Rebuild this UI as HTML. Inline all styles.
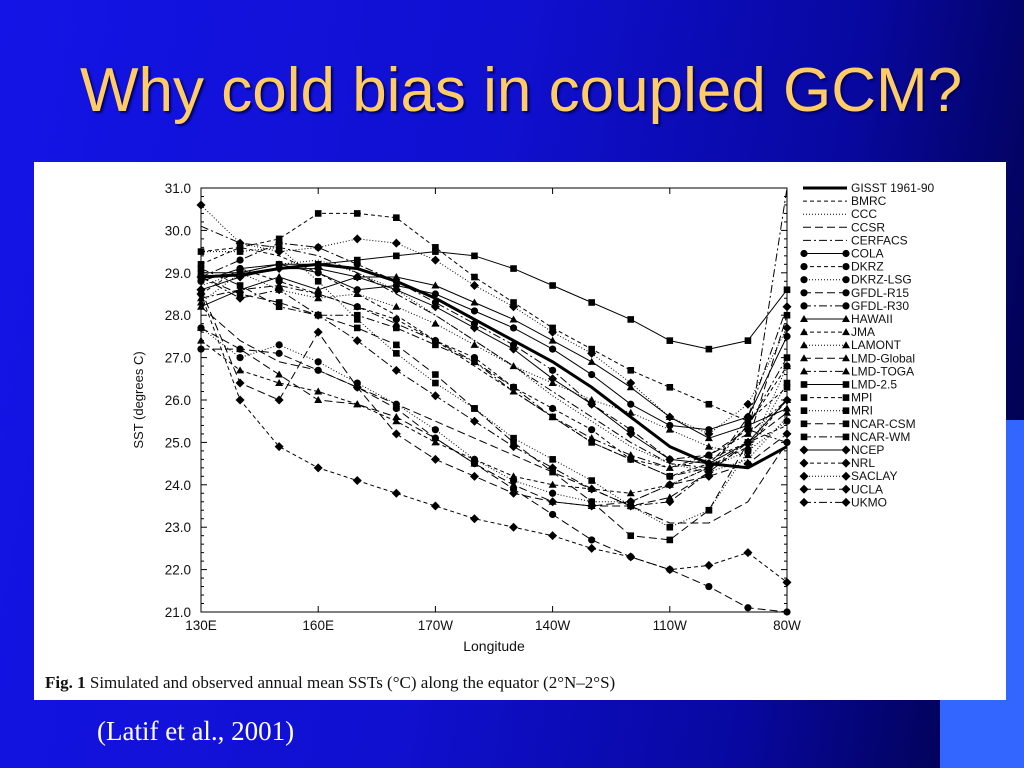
<!DOCTYPE html>
<html><head><meta charset="utf-8"><style>
body{margin:0;width:1024px;height:768px;overflow:hidden;position:relative;background:linear-gradient(100deg,#1414e6 0%,#1010d0 45%,#0808a0 75%,#000040 100%);font-family:"Liberation Sans",sans-serif}
#title{position:absolute;left:80px;top:55px;font-size:62px;color:#ffcc66;text-shadow:2px 2px 2px #000060;white-space:nowrap}
#deco1{position:absolute;left:1006px;top:420px;width:18px;height:348px;background:#3366ff}
#deco2{position:absolute;left:940px;top:690px;width:84px;height:78px;background:#3366ff}
#panel{position:absolute;left:34px;top:162px;width:972px;height:538px;background:#fff}
#cite{position:absolute;left:97px;top:716px;font-family:"Liberation Serif",serif;font-size:27px;color:#fff}
</style></head><body>
<div id="title">Why cold bias in coupled GCM?</div>
<div id="deco1"></div>
<div id="deco2"></div>
<div id="panel"></div>
<svg id="chart" width="1024" height="768" style="position:absolute;left:0;top:0"></svg>
<div id="cite">(Latif et al., 2001)</div>
<script>
const lons=[0,10,20,30,40,50,60,70,80,90,100,110,120,130,140,150];
const names=["GISST 1961-90","BMRC","CCC","CCSR","CERFACS","COLA","DKRZ","DKRZ-LSG","GFDL-R15","GFDL-R30","HAWAII","JMA","LAMONT","LMD-Global","LMD-TOGA","LMD-2.5","MPI","MRI","NCAR-CSM","NCAR-WM","NCEP","NRL","SACLAY","UCLA","UKMO"];
const sGISST=[28.9,28.95,29.1,29.2,29.1,28.8,28.4,27.9,27.4,26.9,26.3,25.6,24.9,24.5,24.4,24.9];
const sBMRC=[29.5,29.6,29.4,29.0,28.5,28.0,27.4,26.8,26.2,25.6,25.0,24.6,24.4,24.6,25.0,25.4];
const sCCC=[28.7,29.0,29.2,29.3,29.0,28.6,28.0,27.4,26.8,26.1,25.5,24.9,24.5,24.3,24.6,25.6];
const sCCSR=[28.2,27.4,26.9,26.7,26.3,25.9,25.5,25.1,24.7,24.3,23.9,23.5,23.1,23.1,23.6,25.0];
const sCERFACS=[30.1,29.7,29.6,29.4,29.0,28.5,28.0,27.4,26.8,26.2,25.6,25.0,24.5,24.4,25.0,31.0];
const sCOLA=[28.8,29.1,29.2,29.0,28.6,28.7,28.5,28.1,27.7,27.2,26.6,25.9,25.4,25.3,25.6,27.5];
const sDKRZ=[28.5,29.1,28.8,28.5,28.2,27.9,27.4,27.0,26.3,25.8,25.3,24.6,24.2,24.5,25.4,26.8];
const sDKRZLSG=[27.7,27.0,27.3,26.9,26.4,25.9,25.3,24.6,24.1,23.8,23.6,23.6,24.0,24.4,24.8,25.5];
const sGFDLR15=[27.2,27.2,27.1,26.7,26.3,25.8,25.1,24.5,23.9,23.3,22.7,22.3,22.0,21.6,21.1,21.0];
const sGFDLR30=[28.9,29.3,29.7,29.6,29.2,28.8,28.3,27.8,27.3,26.7,25.9,25.3,24.6,24.7,25.3,25.0];
const sHAWAII=[28.2,28.6,28.9,28.6,28.9,28.9,28.7,28.3,27.9,27.4,26.9,26.3,25.6,25.1,25.4,25.8];
const sJMA=[27.4,26.7,26.4,26.2,25.9,25.5,25.0,24.6,24.2,24.0,23.9,23.8,24.0,24.4,24.9,26.0];
const sLAMONT=[28.3,29.0,28.6,28.4,28.5,28.2,27.8,27.3,26.8,26.4,26.0,25.7,25.3,24.9,24.7,26.8];
const sLMDGlobal=[27.7,27.2,26.6,26.0,25.9,25.6,25.1,24.5,24.0,23.6,23.5,23.5,23.7,24.3,25.0,25.7];
const sLMDTOGA=[28.4,28.6,28.7,28.5,28.2,27.8,27.4,26.9,26.2,25.6,25.1,24.7,24.4,24.7,25.2,26.0];
const sLMD25=[29.0,29.0,29.2,29.2,29.3,29.4,29.5,29.4,29.1,28.7,28.3,27.9,27.4,27.2,27.4,28.6];
const sMPI=[29.2,29.6,29.8,30.4,30.4,30.3,29.6,28.9,28.3,27.7,27.2,26.7,26.3,25.9,25.5,26.3];
const sMRI=[29.5,29.5,29.6,28.8,27.9,27.1,26.4,25.8,25.1,24.6,24.1,23.5,23.0,23.4,24.8,26.4];
const sNCARCSM=[28.9,28.5,28.3,28.0,27.7,27.3,26.6,25.8,25.0,24.3,23.6,22.8,22.7,23.4,25.0,28.0];
const sNCARWM=[29.1,28.7,28.2,28.0,28.0,27.7,27.3,26.9,26.3,25.6,25.0,24.6,24.2,24.4,25.4,27.0];
const sNCEP=[28.6,28.9,29.1,29.1,28.9,28.6,28.2,27.7,27.2,26.5,25.9,25.2,24.6,24.5,25.0,26.0];
const sNRL=[28.5,26.0,24.9,24.4,24.1,23.8,23.5,23.2,23.0,22.8,22.5,22.3,22.0,22.1,22.4,21.7];
const sSACLAY=[30.6,29.7,29.5,29.6,29.8,29.7,29.3,28.7,28.2,27.6,27.1,26.4,25.6,25.2,25.9,27.7];
const sUCLA=[28.6,26.4,26.0,27.6,26.3,25.2,24.6,24.2,23.8,23.6,23.5,23.6,24.0,24.2,24.5,25.2];
const sUKMO=[28.9,28.4,28.6,28.0,27.4,26.7,26.1,25.5,24.9,24.4,23.9,23.5,23.6,24.3,25.6,28.2];
const series=[sGISST,sBMRC,sCCC,sCCSR,sCERFACS,sCOLA,sDKRZ,sDKRZLSG,sGFDLR15,sGFDLR30,sHAWAII,sJMA,sLAMONT,sLMDGlobal,sLMDTOGA,sLMD25,sMPI,sMRI,sNCARCSM,sNCARWM,sNCEP,sNRL,sSACLAY,sUCLA,sUKMO];
const yTicks=[21,22,23,24,25,26,27,28,29,30,31];
const xTickVals=[0,30,60,90,120,150];
const xTickLabels=["130E","160E","170W","140W","110W","80W"];

const X0=201,X1=787,Y0=612,Y1=188;
const xs=d=>X0+(d/150)*(X1-X0);
const ys=t=>Y0-(t-21)/10*(Y0-Y1);
const NS="http://www.w3.org/2000/svg";
const svg=document.getElementById('chart');
function mk(tag,attrs,parent){const e=document.createElementNS(NS,tag);for(const k in attrs)e.setAttribute(k,attrs[k]);(parent||svg).appendChild(e);return e;}
const dashes=["none","4,3","1,2","8,4","8,3,2,3"];
function marker(kind,x,y,g){
  let e;
  if(kind==="circle")e=mk('circle',{cx:x,cy:y,r:3.6,fill:'#000'},g);
  else if(kind==="square")e=mk('rect',{x:x-3.3,y:y-3.3,width:6.6,height:6.6,fill:'#000'},g);
  else if(kind==="triangle")e=mk('polygon',{points:`${x},${y-4} ${x-4},${y+3} ${x+4},${y+3}`,fill:'#000'},g);
  else e=mk('polygon',{points:`${x},${y-4.5} ${x+4.5},${y} ${x},${y+4.5} ${x-4.5},${y}`,fill:'#000'},g);
  
  
}
function styleOf(i){
  if(i===0)return{w:3,d:"none",m:null};
  if(i<5)return{w:1,d:dashes[i],m:null};
  const kinds=["circle","triangle","square","diamond"];
  const j=i-5;return{w:1,d:dashes[j%5],m:kinds[Math.floor(j/5)]};
}
const frame=mk('rect',{x:X0,y:Y1,width:X1-X0,height:Y0-Y1,fill:'none',stroke:'#000','stroke-width':1});


for(let t=21;t<=31.001;t+=0.2){
  const y=ys(t);const major=Math.abs(t-Math.round(t))<0.01;const L=major?6:3;
  mk('line',{x1:X0,y1:y,x2:X0+L,y2:y,stroke:'#000'});
  mk('line',{x1:X1,y1:y,x2:X1-L,y2:y,stroke:'#000'});
}
yTicks.forEach(t=>{
  const tx=mk('text',{x:X0-10,y:ys(t)+5,'text-anchor':'end','font-size':13.5,fill:'#111'});
  tx.textContent=t.toFixed(1);
  
  
});
xTickVals.forEach((v,i)=>{
  const x=xs(v);
  mk('line',{x1:x,y1:Y0,x2:x,y2:Y0-6,stroke:'#000'});
  mk('line',{x1:x,y1:Y1,x2:x,y2:Y1+6,stroke:'#000'});
  const tx=mk('text',{x:x,y:Y0+18,'text-anchor':'middle','font-size':13.5,fill:'#111'});
  tx.textContent=xTickLabels[i];
  
  
});
const yt=mk('text',{x:0,y:0,'text-anchor':'middle','font-size':13,fill:'#111',transform:`translate(143,400) rotate(-90)`});
yt.textContent="SST (degrees C)";


const xt=mk('text',{x:494,y:651,'text-anchor':'middle','font-size':14,fill:'#111'});
xt.textContent="Longitude";


series.forEach((s,i)=>{
  const st=styleOf(i);
  const g=mk('g',{});
  
  
  const pts=s.map((v,k)=>xs(lons[k]).toFixed(1)+','+ys(v).toFixed(1)).join(' ');
  const pl=mk('polyline',{points:pts,fill:'none',stroke:'#000','stroke-width':st.w,'stroke-dasharray':st.d,'stroke-linejoin':'round'},g);
  
  
  if(st.m)s.forEach((v,k)=>marker(st.m,xs(lons[k]),ys(v),g));
});
names.forEach((n,i)=>{
  const st=styleOf(i);const y=188+i*13.1;
  const g=mk('g',{});
  
  
  mk('line',{x1:803,y1:y,x2:847,y2:y,stroke:'#000','stroke-width':st.w,'stroke-dasharray':st.d},g);
  if(st.m){marker(st.m,804,y,g);marker(st.m,846,y,g);}
  const tx=mk('text',{x:851,y:y+4,'font-size':12,fill:'#111'},g);
  tx.textContent=n;
});
const cap=mk('text',{x:45,y:688,'font-size':17,'font-family':'"Liberation Serif",serif',fill:'#111'});


const b=mk('tspan',{'font-weight':'bold'},cap);b.textContent="Fig. 1";
const r=mk('tspan',{},cap);r.textContent="  Simulated and observed annual mean SSTs (°C) along the equator (2°N–2°S)";
</script>
</body></html>
